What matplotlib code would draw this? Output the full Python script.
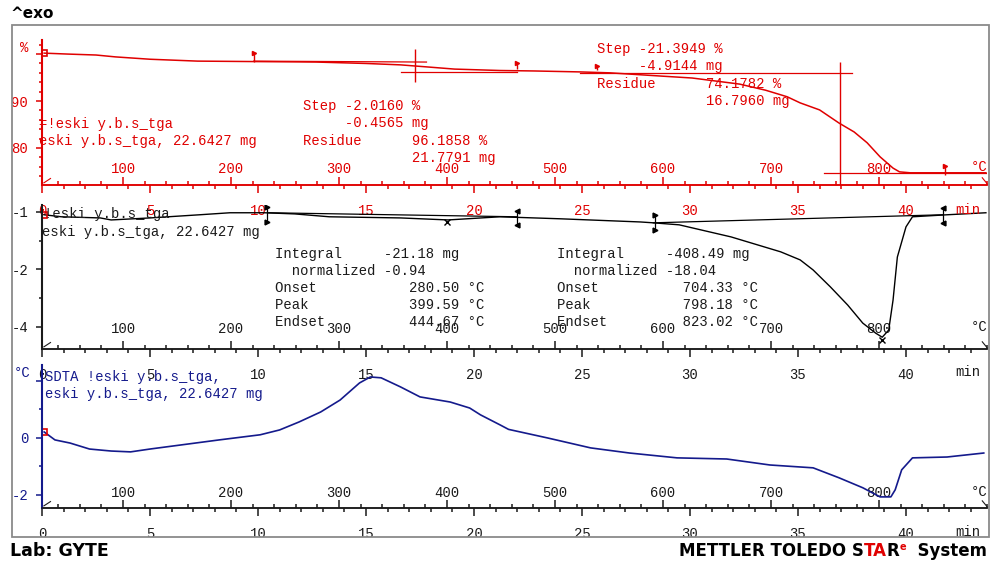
"""Mettler Toledo STARe TGA / DTG / SDTA plot of sample 'eski y.b.s_tga'."""
import matplotlib
matplotlib.use("Agg")
import matplotlib.pyplot as plt
import numpy as np
from matplotlib.offsetbox import AnchoredOffsetbox, HPacker, TextArea
from matplotlib.patches import Rectangle
from matplotlib.ticker import FixedFormatter, FixedLocator, MultipleLocator

W, H = 994, 566
RED = "#e00000"
NAVY = "#141a8c"
INK = "#1a1a1a"
FRAME = "#8a8a8a"
MONO = "Liberation Mono"
BOLD = "DejaVu Sans"

T_START = 25.0   # °C at t = 0
RATE = 20.0      # K/min
T_END = 43.75    # min at the right end of the plot

# TGA curve, % of start mass vs time (min)
TGA_TIME = [0.1, 1.2, 2.5, 3.4, 5.0, 7.2, 12.7, 15.0, 16.6, 18.0, 19.1, 21.2,
            22.8, 24.9, 26.3, 28.7, 30.1, 32.3, 33.5, 34.5, 35.1, 36.0, 36.9,
            37.6, 38.2, 38.8, 39.4, 39.7, 40.2, 43.7]
TGA_PCT = [100.2, 100.0, 99.8, 99.4, 98.9, 98.5, 98.3, 98.0, 97.7, 97.2, 96.8,
           96.5, 96.4, 96.2, 96.0, 95.3, 94.9, 93.6, 92.3, 90.9, 89.6, 88.1,
           85.3, 83.4, 81.1, 78.1, 75.7, 74.9, 74.7, 74.7]

# DTG curve
DTG_TIME = [0.1, 0.9, 2.7, 3.2, 5.0, 7.3, 8.7, 10.3, 11.7, 13.3, 16.6, 18.8,
            21.2, 24.0, 27.7, 28.3, 29.5, 31.9, 34.2, 35.1, 35.7, 36.5, 37.3,
            38.0, 38.6, 38.9, 39.2, 39.4, 39.6, 40.0, 40.3, 41.9, 43.7]
DTG_VAL = [-0.10, -0.17, -0.21, -0.28, -0.21, -0.10, -0.03, -0.03, -0.07,
           -0.17, -0.21, -0.28, -0.17, -0.24, -0.35, -0.38, -0.45, -0.87,
           -1.39, -1.67, -2.02, -2.61, -3.24, -3.87, -4.22, -4.36, -4.11,
           -3.07, -1.57, -0.52, -0.17, -0.10, -0.03]
DTG_TICKS = [0, -2, -4]
DTG_TICK_LABELS = ["-1", "-2", "-4"]

# SDTA curve, °C
SDTA_TIME = [0.1, 0.6, 1.3, 2.2, 3.2, 4.1, 5.0, 6.4, 8.2, 10.1, 11.0, 11.9,
             12.9, 13.8, 14.7, 15.2, 15.7, 16.6, 17.5, 18.9, 19.8, 20.3, 21.2,
             21.6, 23.4, 25.4, 27.2, 29.4, 31.7, 33.7, 35.7, 36.9, 38.0, 38.8,
             39.3, 39.5, 39.8, 40.3, 41.9, 43.6]
SDTA_VAL = [0.21, -0.07, -0.18, -0.39, -0.46, -0.49, -0.39, -0.25, -0.07, 0.11,
            0.28, 0.56, 0.91, 1.33, 1.93, 2.14, 2.11, 1.79, 1.44, 1.26, 1.05,
            0.81, 0.46, 0.30, 0.0, -0.35, -0.53, -0.70, -0.74, -0.95, -1.05,
            -1.40, -1.75, -2.07, -2.07, -1.82, -1.12, -0.70, -0.67, -0.53]

# TGA step evaluation: tangents (time, %) and the two step markers
TGA_TANGENTS = [([9.8, 17.8], [98.5, 98.3]),
                ([16.6, 22.0], [96.2, 96.2]),
                ([24.9, 37.5], [96.0, 96.0]),
                ([36.2, 43.75], [74.7, 74.7])]
STEP_TIME = [17.27, 36.94]
STEP_TOP = [101.1, 98.3]
STEP_BOTTOM = [94.0, 72.1]
TGA_LIMIT_TIME = [9.8, 22.0, 25.7, 41.8]
TGA_LIMIT_TOP = [100.2, 98.1, 97.4, 76.2]
TGA_LIMIT_BOTTOM = [98.3, 96.8, 96.6, 74.3]

# DTG peak integration: baselines, limits and peaks
DTG_BASELINES = [([10.5, 22.0], [-0.03, -0.17]),
                 ([28.3, 41.7], [-0.38, -0.10])]
DTG_LIMIT_TIME = [10.4, 22.0, 28.4, 41.7]
DTG_LIMIT_TOP = [0.17, 0.03, -0.10, 0.14]
DTG_LIMIT_BOTTOM = [-0.35, -0.45, -0.63, -0.38]
DTG_LIMIT_SIDE = [">", "<", ">", "<"]
DTG_PEAK_TIME = [18.75, 38.9]
DTG_PEAK_VAL = [-0.35, -4.45]

plt.rcParams["font.family"] = MONO
plt.rcParams["axes.unicode_minus"] = False


def to_temp(t):
    return T_START + RATE * np.asarray(t)


def to_time(T):
    return (np.asarray(T) - T_START) / RATE


fig = plt.figure(figsize=(W / 100, H / 100), dpi=100)


def fx(x):
    return x / W


def fy(y):
    return 1 - y / H


def make_panel(top, bottom, ylim, spine_color, axis_color, time_color,
               temp_color, temp_pad):
    ax = fig.add_axes([fx(42), fy(bottom), (987 - 42) / W, (bottom - top) / H])
    ax.patch.set_visible(False)
    ax.set_xlim(0, T_END)
    ax.set_ylim(*ylim)
    ax.spines[["top", "right"]].set_visible(False)
    ax.spines["left"].set_color(spine_color)
    ax.spines["left"].set_linewidth(1.5)
    ax.spines["bottom"].set_color(axis_color)
    ax.spines["bottom"].set_linewidth(1.1)
    ax.xaxis.set_major_locator(MultipleLocator(5))
    ax.xaxis.set_minor_locator(MultipleLocator(1))
    ax.tick_params(axis="x", which="both", direction="out", color=axis_color, width=1.1)
    ax.tick_params(axis="x", which="major", length=5.5, pad=8, labelsize=10,
                   labelcolor=time_color)
    ax.tick_params(axis="x", which="minor", length=3)
    ax.tick_params(axis="y", which="both", direction="out", color=spine_color, width=1.1)
    ax.tick_params(axis="y", which="major", length=4, pad=6, labelsize=10,
                   labelcolor=spine_color)
    ax.tick_params(axis="y", which="minor", length=2.5)

    sec = ax.secondary_xaxis(0, functions=(to_temp, to_time))
    sec.spines["bottom"].set_color(axis_color)
    sec.spines["bottom"].set_linewidth(1.1)
    sec.xaxis.set_major_locator(FixedLocator(range(100, 900, 100)))
    sec.xaxis.set_minor_locator(MultipleLocator(20))
    sec.tick_params(which="both", direction="in", color=axis_color, width=1.1)
    sec.tick_params(which="major", length=5.5, pad=temp_pad, labelsize=10,
                    labelcolor=temp_color)
    sec.tick_params(which="minor", length=3)

    # little end marks of the STARe axes
    ax.plot([0.002, 0.009], [0.015, 0.045], transform=ax.transAxes,
            color=axis_color, lw=0.8, clip_on=False)
    ax.plot([0.995, 1.0], [0.05, 0.01], transform=ax.transAxes,
            color=axis_color, lw=0.8, clip_on=False)
    return ax


def label(x, y, s, color, **kw):
    fig.text(fx(x), fy(y), s, color=color, family=MONO, fontsize=10,
             va="center", ha=kw.pop("ha", "left"), **kw)


# ---- panel 1: TGA ----
ax1 = make_panel(40, 185, (72.1, 103.0), RED, RED, RED, RED, -16.5)
ax1.yaxis.set_major_locator(FixedLocator([80, 90, 100]))
ax1.yaxis.set_major_formatter(FixedFormatter(["80", "90", ""]))
ax1.yaxis.set_minor_locator(MultipleLocator(2))
ax1.plot(TGA_TIME, TGA_PCT, color=RED, lw=1.1)
for tt, vv in TGA_TANGENTS:
    ax1.plot(tt, vv, color=RED, lw=0.9)
ax1.vlines(STEP_TIME, STEP_BOTTOM, STEP_TOP, color=RED, lw=1.0)
ax1.vlines(TGA_LIMIT_TIME, TGA_LIMIT_BOTTOM, TGA_LIMIT_TOP, color=RED, lw=1.0)
ax1.plot(TGA_LIMIT_TIME, TGA_LIMIT_TOP, ">", color=RED, ms=3, ls="none")
ax1.plot(TGA_TIME[0], TGA_PCT[0], "s", mfc="none", mec=RED, ms=5, mew=1.2)

# ---- panel 2: DTG ----
ax2 = make_panel(205, 349, (-4.77, 0.24), INK, INK, INK, INK, -19.5)
ax2.yaxis.set_major_locator(FixedLocator(DTG_TICKS))
ax2.yaxis.set_major_formatter(FixedFormatter(DTG_TICK_LABELS))
ax2.yaxis.set_minor_locator(MultipleLocator(1))
ax2.plot(DTG_TIME, DTG_VAL, color="black", lw=1.0)
for tt, vv in DTG_BASELINES:
    ax2.plot(tt, vv, color="black", lw=0.9)
ax2.vlines(DTG_LIMIT_TIME, DTG_LIMIT_BOTTOM, DTG_LIMIT_TOP, color="black", lw=0.9)
for t, top, bot, side in zip(DTG_LIMIT_TIME, DTG_LIMIT_TOP, DTG_LIMIT_BOTTOM,
                             DTG_LIMIT_SIDE):
    ax2.plot([t, t], [top, bot], side, color="black", ms=3.5, ls="none")
ax2.plot(DTG_PEAK_TIME, DTG_PEAK_VAL, "x", color="black", ms=5, mew=1.0)
ax2.plot(DTG_TIME[0], DTG_VAL[0], "s", mfc="none", mec=RED, ms=5, mew=1.2)

# ---- panel 3: SDTA ----
ax3 = make_panel(365, 508, (-2.46, 2.56), NAVY, INK, INK, INK, -15.5)
ax3.yaxis.set_major_locator(FixedLocator([-2, 0, 2]))
ax3.yaxis.set_major_formatter(FixedFormatter(["-2", "0", ""]))
ax3.yaxis.set_minor_locator(MultipleLocator(1))
ax3.plot(SDTA_TIME, SDTA_VAL, color=NAVY, lw=1.2)
ax3.plot(SDTA_TIME[0], SDTA_VAL[0], "s", mfc="none", mec=RED, ms=5, mew=1.2)

# ---- texts ----
label(24, 48, "%", RED, ha="center")
label(22, 373, "°C", NAVY, ha="center")
for y_min, y_deg, c in [(210, 167, RED), (372, 327, INK), (532, 492, INK)]:
    label(968, y_min, "min", c, ha="center")
    label(979, y_deg, "°C", c, ha="center")

label(39, 124, "=!eski y.b.s_tga", RED)
label(39, 141, "eski y.b.s_tga, 22.6427 mg", RED)
for x0, y0, lines in [
        (303, 106, ["Step -2.0160 %", "     -0.4565 mg",
                    "Residue      96.1858 %", "             21.7791 mg"]),
        (597, 49, ["Step -21.3949 %", "     -4.9144 mg",
                   "Residue      74.1782 %", "             16.7960 mg"])]:
    for i, s in enumerate(lines):
        label(x0, y0 + i * 17.3, s, RED)

label(44, 214, "!eski y.b.s_tga", INK)
label(42, 232, "eski y.b.s_tga, 22.6427 mg", INK)
for x0, lines in [
        (275, ["Integral     -21.18 mg", "  normalized -0.94",
               "Onset           280.50 °C", "Peak            399.59 °C",
               "Endset          444.67 °C"]),
        (557, ["Integral     -408.49 mg", "  normalized -18.04",
               "Onset          704.33 °C", "Peak           798.18 °C",
               "Endset         823.02 °C"])]:
    for i, s in enumerate(lines):
        label(x0, 254 + i * 17, s, INK)

label(45, 377, "SDTA !eski y.b.s_tga,", NAVY)
label(45, 394, "eski y.b.s_tga, 22.6427 mg", NAVY)

# ---- frame, mask below it, header and footer ----
fig.add_artist(Rectangle((0, 0), 1, fy(537), transform=fig.transFigure,
                         facecolor="white", edgecolor="none", zorder=4))
fig.add_artist(Rectangle((fx(12), fy(537)), (989 - 12) / W, (537 - 25) / H,
                         transform=fig.transFigure, fill=False,
                         edgecolor=FRAME, lw=1.3, zorder=5))
fig.text(fx(10), fy(13), "^exo", family=BOLD, fontweight="bold", fontsize=11,
         va="center", color="black", zorder=6)
fig.text(fx(10), fy(551), "Lab: GYTE", family=BOLD, fontweight="bold",
         fontsize=12.5, va="center", color="black", zorder=6)

bold = dict(family=BOLD, fontweight="bold", fontsize=12)
brand = HPacker(children=[
    TextArea("METTLER TOLEDO S", textprops=dict(color="black", **bold)),
    TextArea("TA", textprops=dict(color=RED, **bold)),
    TextArea("R", textprops=dict(color="black", **bold)),
    TextArea("e", textprops=dict(color=RED, family=BOLD, fontweight="bold",
                                 fontsize=7)),
    TextArea("  System", textprops=dict(color="black", **bold)),
], align="top", pad=0, sep=0)
anchored = AnchoredOffsetbox(loc="center right", child=brand, pad=0,
                             borderpad=0, frameon=False,
                             bbox_to_anchor=(fx(987), fy(551)),
                             bbox_transform=fig.transFigure)
anchored.set_zorder(6)
fig.add_artist(anchored)

fig.savefig("out.png", dpi=100)
